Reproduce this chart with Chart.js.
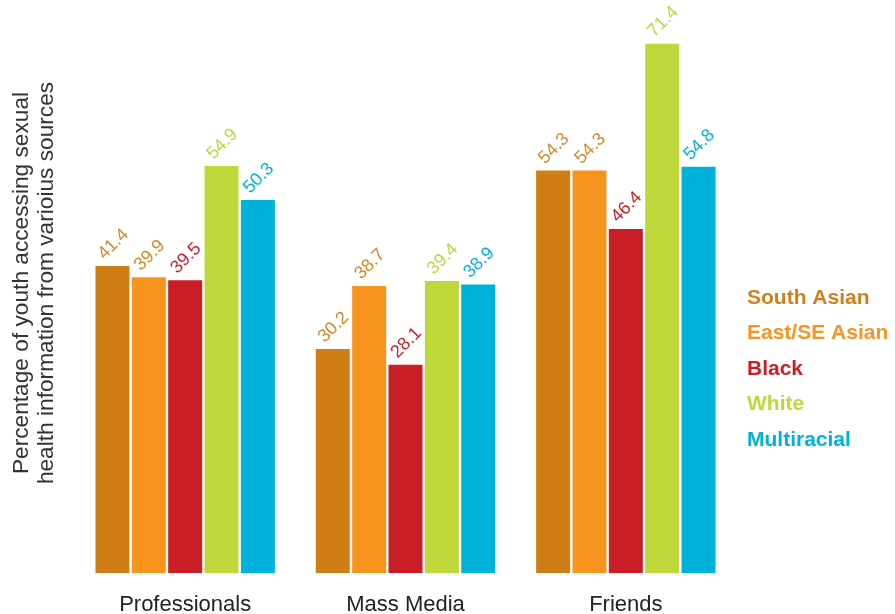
<!DOCTYPE html>
<html>
<head>
<meta charset="utf-8">
<script src="https://cdn.jsdelivr.net/npm/chart.js@4.4.0/dist/chart.umd.min.js"></script>
<style>
  html, body { margin: 0; padding: 0; background: #ffffff; }
  #wrap { width: 895px; height: 614px; }
</style>
</head>
<body>
<div id="wrap"><canvas id="c" width="895" height="614"></canvas></div>
<script>
const categories = ["Professionals", "Mass Media", "Friends"];
const seriesNames = ["South Asian", "East/SE Asian", "Black", "White", "Multiracial"];
const southAsian = [41.4, 30.2, 54.3];
const eastSEAsian = [39.9, 38.7, 54.3];
const black = [39.5, 28.1, 46.4];
const white = [54.9, 39.4, 71.4];
const multiracial = [50.3, 38.9, 54.8];
const yTitleLines = ["Percentage of youth accessing sexual", "health information from varioius sources"];

const barColors = ["#cf7e16", "#f7941e", "#c91e26", "#bfd73b", "#00b1da"];
const labelColors = ["#d4862a", "#d4862a", "#c91e26", "#bcd53f", "#00b1da"];
const legendColors = ["#d0801a", "#f7941e", "#c91e26", "#bfd73b", "#00b1da"];
const seriesValues = [southAsian, eastSEAsian, black, white, multiracial];

const FONT = "'Liberation Sans', Arial, Helvetica, sans-serif";

const valueLabels = {
  id: 'valueLabels',
  afterDatasetsDraw(chart) {
    const ctx = chart.ctx;
    ctx.save();
    ctx.font = "18px " + FONT;
    ctx.textAlign = 'left';
    ctx.textBaseline = 'alphabetic';
    chart.data.datasets.forEach((ds, i) => {
      const meta = chart.getDatasetMeta(i);
      meta.data.forEach((bar, j) => {
        ctx.save();
        ctx.translate(bar.x - 8, bar.y - 6);
        ctx.rotate(-45 * Math.PI / 180);
        ctx.fillStyle = labelColors[i];
        ctx.fillText(ds.data[j].toFixed(1), 0, 0);
        ctx.restore();
      });
    });
    ctx.restore();
  }
};

const sideTexts = {
  id: 'sideTexts',
  afterDraw(chart) {
    const ctx = chart.ctx;
    ctx.save();
    ctx.font = "22.7px " + FONT;
    ctx.fillStyle = "#333333";
    ctx.textAlign = 'center';
    ctx.textBaseline = 'alphabetic';
    const xs = [27.5, 52.5];
    yTitleLines.forEach((t, k) => {
      ctx.save();
      ctx.translate(xs[k], 283);
      ctx.rotate(-Math.PI / 2);
      ctx.fillText(t, 0, 0);
      ctx.restore();
    });
    ctx.restore();
    ctx.save();
    ctx.font = "bold 21px " + FONT;
    ctx.textAlign = 'left';
    ctx.textBaseline = 'alphabetic';
    chart.data.datasets.forEach((ds, i) => {
      ctx.fillStyle = legendColors[i];
      ctx.fillText(ds.label, 747, 303.5 + i * 35.6);
    });
    ctx.restore();
  }
};

new Chart(document.getElementById('c'), {
  type: 'bar',
  data: {
    labels: categories,
    datasets: seriesNames.map((name, i) => ({
      label: name,
      data: seriesValues[i],
      backgroundColor: barColors[i],
      borderWidth: 0,
      categoryPercentage: 0.825,
      barPercentage: 0.935
    }))
  },
  options: {
    responsive: false,
    animation: false,
    devicePixelRatio: 1,
    layout: { padding: { left: 75, right: 159, top: 17, bottom: 0 } },
    plugins: { legend: { display: false }, tooltip: { enabled: false }, title: { display: false } },
    scales: {
      x: {
        grid: { display: false, drawTicks: false },
        border: { display: false },
        ticks: { color: "#222222", font: { family: FONT, size: 22 }, padding: 19 },
        afterFit(scale) { scale.height = 41; }
      },
      y: { display: false, min: 0, max: 75 }
    }
  },
  plugins: [valueLabels, sideTexts]
});
</script>
</body>
</html>
